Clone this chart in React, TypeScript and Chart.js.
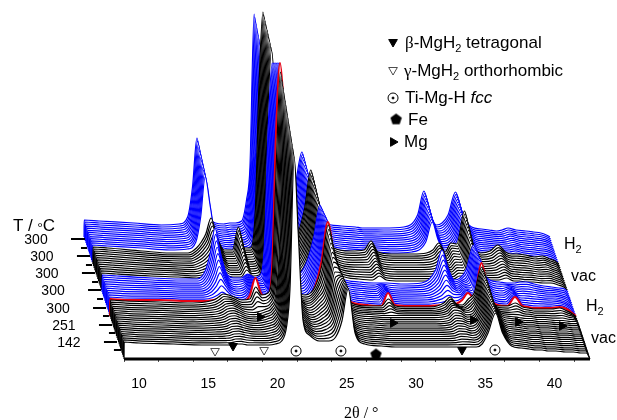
import React, { useEffect, useRef } from "react";
import { Chart, registerables } from "chart.js";
Chart.register(...registerables);

const twoTheta = [8.92, 8.93, 10, 12.5, 14.5, 15.8, 16.4, 16.75, 17.07, 17.45, 17.85, 18.4, 19, 19.42, 19.85, 20.3, 20.65, 20.9, 21.2, 21.5, 21.85, 22.3, 23, 23.7, 24.2, 24.65, 25.1, 25.6, 26.3, 27.5, 28.5, 29, 29.5, 30.5, 32, 33, 33.46, 33.9, 34.35, 34.77, 35.2, 35.74, 36.25, 36.9, 37.6, 38.16, 38.7, 39.1, 39.53, 40.1, 40.8, 41.37, 41.9, 42.3, 42.56];

// heights above each trace's own floor, read at the twoTheta positions
const vacFront = [0, 17, 16, 15, 14, 14, 14, 14, 15, 15, 14, 14, 14, 14, 15, 18, 32, 70, 202, 125, 38, 24, 18, 18, 22, 38, 70, 26, 15, 13, 12, 12, 12, 12, 12, 12, 12, 12, 12, 15, 26, 46, 26, 13, 11, 10, 9, 9, 8, 8, 7, 7, 6, 6, 0];
const vacMid = [0, 17, 16, 15, 14, 15, 16, 18, 21, 22, 20, 16, 15, 16, 18, 22, 36, 85, 235, 150, 44, 28, 22, 30, 42, 80, 62, 28, 15, 13, 12, 12, 12, 12, 12, 14, 20, 19, 15, 16, 26, 50, 28, 13, 11, 10, 9, 9, 8, 8, 7, 7, 6, 6, 0];
const vacLast = [0, 17, 16, 15, 14, 15, 17, 20, 23, 22, 20, 17, 18, 30, 22, 24, 50, 150, 245, 190, 60, 28, 22, 30, 52, 92, 60, 26, 14, 11, 11, 18, 11, 10, 10, 14, 20, 13, 12, 18, 24, 50, 22, 11, 11, 14, 10, 9, 8, 8, 8, 9, 6, 3, 0];
const redTrace = [0, 17, 16, 16, 15, 15, 16, 17, 18, 17, 15, 14, 20, 38, 22, 19, 55, 180, 253, 200, 60, 19, 16, 28, 55, 94, 60, 25, 14, 11, 10, 23, 11, 10, 10, 11, 11, 12, 16, 23, 18, 53, 22, 11, 10, 19, 10, 9, 8, 8, 8, 9, 7, 3, 0];
const h2aLast = [0, 17, 16, 14, 13, 13, 22, 40, 64, 40, 20, 14, 14, 18, 14, 16, 50, 160, 229, 170, 60, 20, 17, 30, 55, 87, 55, 24, 13, 10, 9, 9, 9, 8, 9, 22, 42, 24, 12, 14, 22, 47, 24, 12, 10, 9, 9, 10, 10, 8, 6, 5, 4, 3, 0];
const vacBFirst = [0, 17, 16, 14, 13, 12, 13, 14, 16, 20, 16, 13, 13, 20, 14, 15, 50, 165, 240, 180, 60, 20, 16, 28, 52, 84, 52, 24, 14, 11, 10, 14, 10, 9, 9, 9, 10, 14, 11, 14, 14, 40, 20, 10, 10, 12, 9, 9, 8, 8, 7, 7, 5, 3, 0];
const vacBLast = [0, 17, 16, 13, 11, 11, 16, 22, 30, 46, 28, 14, 14, 37, 16, 16, 55, 175, 252, 190, 70, 22, 17, 30, 55, 94, 60, 26, 16, 13, 14, 23, 12, 10, 10, 11, 14, 21, 12, 21, 20, 53, 22, 11, 13, 19, 12, 10, 10, 9, 7, 8, 5, 3, 0];
const h2bFirst = [0, 17, 16, 14, 12, 13, 20, 45, 85, 55, 22, 14, 13, 14, 13, 15, 36, 110, 205, 140, 50, 20, 16, 26, 48, 78, 48, 22, 14, 11, 10, 10, 10, 9, 10, 20, 40, 22, 12, 13, 20, 40, 20, 10, 9, 8, 8, 8, 9, 7, 6, 5, 4, 2, 0];
const h2bLast = [0, 17, 16, 14, 12, 13, 20, 50, 99, 60, 26, 14, 13, 14, 14, 16, 37, 70, 223, 160, 55, 20, 16, 30, 55, 85, 52, 24, 14, 11, 10, 9, 9, 9, 10, 22, 46, 24, 12, 14, 22, 45, 22, 10, 8, 7, 6, 7, 9, 7, 6, 5, 4, 2, 0];

const vacADepths = [0, 2.1, 4.2, 6.3, 8.4, 10.5, 12.6, 14.7, 16.8, 18.9, 21, 23.1, 25.2, 27.3, 29.4, 31.5, 33.6, 35.7, 37.8, 39.9, 42];
const redDepth = 43;
const h2aDepths = [45, 47.2, 49.4, 51.6, 53.8, 56, 58.2, 60.4, 62.6, 64.8, 67];
const vacBDepths = [69, 71.2, 73.4, 75.6, 77.8, 80, 82.2, 84.4, 86.6, 88.8, 91, 93, 95];
const h2bDepths = [97, 99.1, 101.2, 103.3, 105.4, 107.5, 109.6, 111.7, 113.8, 115.9, 118, 120, 122];

const axisEnds = [8.92, 42.56];
const minorTicks = [8.92, 11.42, 13.92, 16.42, 18.92, 21.42, 23.92, 26.42, 28.92, 31.42, 33.92, 36.42, 38.92, 41.42];
const tickLabels = [10, 15, 20, 25, 30, 35, 40];

const sideLong = [[5.09, 6.1, 120], [5.52, 6.46, 103], [5.88, 6.82, 86], [6.32, 7.26, 69], [6.68, 7.62, 51], [7.11, 8.05, 34], [7.47, 8.41, 17]];
const sideShort = [[5.81, 6.25, 111], [6.17, 6.61, 94], [6.61, 7.04, 77], [6.97, 7.4, 60], [7.4, 7.83, 43], [7.83, 8.27, 26], [8.19, 8.7, 9]];
const tempLabels = ["300", "300", "300", "300", "300", "251", "142"];

const betaMarks = [[16.79, 13], [33.32, 9], [28.34, 317]];
const gammaMarks = [[15.49, 8], [19.03, 9], [28.34, 289]];
const fccMarks = [[21.34, 8], [24.58, 8], [35.7, 9], [28.34, 261]];
const feMarks = [[27.11, 5], [28.56, 240]];
const mgMarks = [[18.74, 42], [28.34, 36], [34.12, 39], [37.37, 37], [40.54, 33], [28.34, 217]];

const SKEW = 0.02368;

function blend(keys: [number, number[]][], d: number) {
  let i = 0;
  while (i < keys.length - 2 && d > keys[i + 1][0]) i++;
  const [d0, a] = keys[i];
  const [d1, b] = keys[i + 1];
  const t = Math.max(0, Math.min(1, (d - d0) / (d1 - d0)));
  return a.map((v, j) => v + (b[j] - v) * t);
}

function trace(h: number[], d: number, color: string, width: number) {
  return {
    data: twoTheta.map((x, i) => ({ x: x - SKEW * d, y: h[i] + d })),
    borderColor: color,
    borderWidth: width,
    backgroundColor: "#fff",
    fill: { value: d },
    pointRadius: 0,
    cubicInterpolationMode: "monotone" as const,
  };
}

function segments(rows: number[][]) {
  const out: any[] = [];
  rows.forEach(([a, b, y]) => out.push({ x: a, y }, { x: b, y }, { x: b, y: null }));
  return out;
}

function marks(rows: number[][], style: any, extra: any) {
  return {
    data: rows.map(([x, y]) => ({ x, y })),
    showLine: false,
    pointStyle: style,
    pointBackgroundColor: "#000",
    pointBorderColor: "#000",
    pointBorderWidth: 1,
    clip: false,
    ...extra,
  };
}

function pentagon() {
  const c = document.createElement("canvas");
  c.width = 13;
  c.height = 13;
  const g = c.getContext("2d")!;
  g.beginPath();
  for (let i = 0; i < 5; i++) {
    const a = -Math.PI / 2 + (i * 2 * Math.PI) / 5;
    g.lineTo(6.5 + 6 * Math.cos(a), 7 + 6 * Math.sin(a));
  }
  g.closePath();
  g.fillStyle = "#000";
  g.fill();
  return c;
}

const SANS = '"Liberation Sans", Arial, sans-serif';
const SERIF = '"Liberation Serif", serif';

const textPlugin = {
  id: "texts",
  afterDatasetsDraw(chart: any) {
    const g = chart.ctx;
    const run = (x: number, y: number, parts: [string, string, number?][]) => {
      g.textAlign = "left";
      g.textBaseline = "alphabetic";
      g.fillStyle = "#000";
      let cx = x;
      parts.forEach(([s, f, dy]) => {
        g.font = f;
        g.fillText(s, cx, y + (dy || 0));
        cx += g.measureText(s).width;
      });
    };
    const f17 = `17px ${SANS}`;
    const sub = `11px ${SANS}`;
    const sym = `17px ${SERIF}`;
    run(405, 48, [["β", sym], ["-MgH", f17], ["2", sub, 4], [" tetragonal", f17]]);
    run(404, 76, [["γ", sym], ["-MgH", f17], ["2", sub, 4], [" orthorhombic", f17]]);
    run(405, 103, [["Ti-Mg-H ", f17], ["fcc", `italic 17px ${SANS}`]]);
    run(408, 125, [["Fe", f17]]);
    run(404, 147, [["Mg", f17]]);
    const f16 = `16px ${SANS}`;
    run(13, 231, [["T / ", `17px ${SANS}`], ["°", `13px ${SERIF}`], ["C", `17px ${SANS}`]]);
    run(564, 249, [["H", f16], ["2", `11px ${SANS}`, 4]]);
    run(571, 281, [["vac", f16]]);
    run(586, 311, [["H", f16], ["2", `11px ${SANS}`, 4]]);
    run(591, 343, [["vac", f16]]);
    run(344, 418, [["2θ / °", `16px ${SERIF}`]]);
    g.font = `14px ${SANS}`;
    g.textAlign = "center";
    g.textBaseline = "middle";
    const xs = chart.scales.x;
    const ys = chart.scales.y;
    tempLabels.forEach((t, i) => {
      const [a, , v] = sideLong[i];
      g.fillText(t, xs.getPixelForValue(a) - 35, ys.getPixelForValue(v) + 1);
    });
  },
};

const noPad = (s: any, h: number) => {
  s.height = h;
  s.paddingLeft = 0;
  s.paddingRight = 0;
};

export default function App() {
  const ref = useRef<HTMLCanvasElement>(null);
  useEffect(() => {
    const vacAKeys: [number, number[]][] = [[0, vacFront], [31.5, vacMid], [42, vacLast]];
    const h2aKeys: [number, number[]][] = [[43, redTrace], [67, h2aLast]];
    const vacBKeys: [number, number[]][] = [[69, vacBFirst], [95, vacBLast]];
    const h2bKeys: [number, number[]][] = [[97, h2bFirst], [122, h2bLast]];
    const datasets: any[] = [
      { data: axisEnds.map((x) => ({ x, y: 0 })), borderColor: "#000", borderWidth: 3, pointRadius: 0, clip: false },
      { data: segments(sideLong), borderColor: "#000", borderWidth: 2, pointRadius: 0, spanGaps: false, clip: false },
      { data: segments(sideShort), borderColor: "#000", borderWidth: 2, pointRadius: 0, spanGaps: false, clip: false },
      marks(betaMarks, "triangle", { pointRadius: 5, rotation: 180 }),
      marks(gammaMarks, "triangle", { pointRadius: 5, rotation: 180, pointBackgroundColor: "#fff", pointBorderWidth: 0.7 }),
      marks(fccMarks, "circle", { pointRadius: 1 }),
      marks(fccMarks, "circle", { pointRadius: 5, pointBackgroundColor: "#fff", pointBorderWidth: 1 }),
      marks(feMarks, pentagon(), { pointRadius: 6 }),
      marks(mgMarks, "triangle", { pointRadius: 5, rotation: 90 }),
      ...vacADepths.map((d) => trace(blend(vacAKeys, d), d, "#000", 1.2)),
      trace(redTrace, redDepth, "#e60012", 2),
      ...h2aDepths.map((d) => trace(blend(h2aKeys, d), d, "#0000ff", 1.2)),
      ...vacBDepths.map((d) => trace(blend(vacBKeys, d), d, "#000", 1.2)),
      ...h2bDepths.map((d) => trace(blend(h2bKeys, d), d, "#0000ff", 1.2)),
    ];
    const chart = new Chart(ref.current!, {
      type: "scatter",
      data: { datasets },
      plugins: [textPlugin],
      options: {
        animation: false,
        responsive: false,
        showLine: true,
        layout: { padding: 0, autoPadding: false },
        plugins: { legend: { display: false }, tooltip: { enabled: false } },
        scales: {
          x: {
            type: "linear",
            min: -0.036,
            max: 44.51,
            weight: 0,
            border: { display: false },
            grid: { drawOnChartArea: false, drawTicks: true, tickLength: 3, color: "#555" },
            ticks: { callback: () => "", autoSkip: false, maxRotation: 0, padding: 0 },
            afterBuildTicks: (s: any) => { s.ticks = minorTicks.map((value) => ({ value })); },
            afterFit: (s: any) => noPad(s, 3),
          },
          x2: {
            type: "linear",
            position: "bottom",
            min: -0.036,
            max: 44.51,
            weight: 1,
            border: { display: false },
            grid: { display: false, drawTicks: false },
            ticks: { autoSkip: false, maxRotation: 0, padding: 14, color: "#000", font: { size: 14, family: SANS } },
            afterBuildTicks: (s: any) => { s.ticks = tickLabels.map((value) => ({ value })); },
            afterFit: (s: any) => noPad(s, 58),
          },
          y: { type: "linear", min: 0, max: 359, display: false },
        },
      } as any,
    });
    return () => chart.destroy();
  }, []);
  return <canvas ref={ref} width={617} height={420} style={{ position: "fixed", left: 0, top: 0 }} />;
}
